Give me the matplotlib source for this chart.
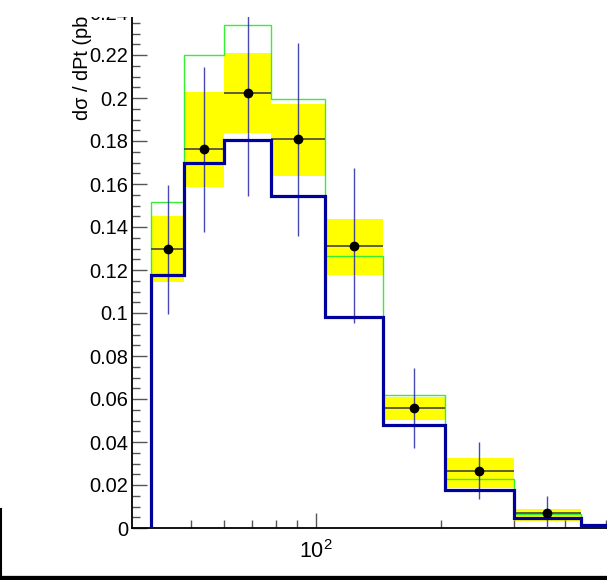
import matplotlib
matplotlib.use('Agg')
import matplotlib.pyplot as plt
import numpy as np
from matplotlib.patches import Rectangle
from matplotlib.lines import Line2D
from matplotlib.ticker import MultipleLocator, FuncFormatter, NullFormatter, FixedLocator

plt.rcParams['font.family'] = ['Liberation Sans', 'DejaVu Sans']
plt.rcParams['mathtext.fontset'] = 'custom'
plt.rcParams['mathtext.rm'] = 'Liberation Sans'

# pt bins (GeV)
edges = [40, 48, 60, 78, 105, 145, 205, 300, 435, 600]
# MC predictions
mc_blue = [0.1175, 0.1700, 0.1805, 0.1546, 0.0983, 0.0478, 0.0175, 0.0047, 0.0012]
mc_green = [0.1516, 0.2200, 0.2340, 0.1997, 0.1265, 0.0617, 0.0226, 0.0065, 0.0015]
# measured cross section, stat error, systematic band
data = [0.1296, 0.1761, 0.2022, 0.1808, 0.1313, 0.0557, 0.0267, 0.0068]
stat = [0.0300, 0.0385, 0.0476, 0.0450, 0.0360, 0.0185, 0.0134, 0.0082]
syst_lo = [0.1146, 0.1585, 0.1836, 0.1639, 0.1177, 0.0502, 0.0188, 0.0034]
syst_hi = [0.1453, 0.2029, 0.2211, 0.1972, 0.1437, 0.0608, 0.0326, 0.0088]
# labelled x tick
x_major = [100]
x_minor = [50, 60, 70, 80, 90, 200, 300, 400, 500, 600, 700, 800, 900]

W, H = 607, 580
fig = plt.figure(figsize=(W / 100, H / 100), dpi=100)

# frame geometry in pixels
x0_px, y0_px = 132.3, 528.0
px_per_dec, px_per_unit = 414.2, 2150.0
xmin, xmax = 36.0, 1000.0
ymax = 0.26
w_px = (np.log10(xmax) - np.log10(xmin)) * px_per_dec
h_px = ymax * px_per_unit
ax = fig.add_axes([x0_px / W, (H - y0_px) / H, w_px / W, h_px / H])
ax.set_xscale('log')
ax.set_xlim(xmin, xmax)
ax.set_ylim(0, ymax)

e = np.array(edges, dtype=float)
lo, hi = e[:-1], e[1:]
n = len(data)
centers = np.sqrt(lo[:n] * hi[:n])

# systematic band
for i in range(n):
    ax.add_patch(Rectangle((lo[i], syst_lo[i]), hi[i] - lo[i], syst_hi[i] - syst_lo[i],
                           facecolor='#ffff00', edgecolor='none', zorder=1))

ax.stairs(mc_green, e, baseline=0, color='#33f033', lw=1.0, zorder=2)

# bin-width bars and stat errors
ax.hlines(data, lo[:n], hi[:n], color='#444444', lw=1.2, zorder=3)
ax.vlines(centers, np.array(data) - np.array(stat), np.array(data) + np.array(stat),
          color='#2828a8', lw=1.0, alpha=0.85, zorder=4)

ax.stairs(mc_blue, e, baseline=0, color='#00009a', lw=2.3, zorder=5)

ax.plot(centers, data, 'o', color='black', ms=6, zorder=6)

# axes style
for s in ['top', 'right']:
    ax.spines[s].set_visible(False)
for s in ['left', 'bottom']:
    ax.spines[s].set_linewidth(1.3)
    ax.spines[s].set_color('black')

ax.yaxis.set_major_locator(MultipleLocator(0.02))
ax.yaxis.set_minor_locator(MultipleLocator(0.005))
ax.yaxis.set_major_formatter(FuncFormatter(lambda v, p: '%g' % round(v, 4)))
ax.xaxis.set_major_locator(FixedLocator(x_major))
ax.xaxis.set_minor_locator(FixedLocator(x_minor))
ax.xaxis.set_major_formatter(FuncFormatter(lambda v, p: r'$\mathregular{10^{%d}}$' % round(np.log10(v))))
ax.xaxis.set_minor_formatter(NullFormatter())

ax.tick_params(which='both', direction='in', color='#555555', width=1.0,
               labelsize=14.4, top=False, right=False)
ax.tick_params(axis='y', which='major', length=11, pad=3)
ax.tick_params(axis='y', which='minor', length=5.5)
ax.tick_params(axis='x', which='major', length=11, pad=9, labelsize=15.5)
ax.tick_params(axis='x', which='minor', length=5.5)

fig.text(83 / W, (H - 120) / H, 'd\u03c3 / dPt (pb/GeV)', rotation=90,
         ha='center', va='bottom', fontsize=14.4)

# white strip along the top of the canvas
fig.add_artist(Rectangle((0, 1 - 17 / H), 1, 17 / H, transform=fig.transFigure,
                         facecolor='white', edgecolor='none', zorder=100))

# lower pad border
fig.add_artist(Line2D([0, 1], [2.5 / H, 2.5 / H], transform=fig.transFigure,
                      color='black', lw=3.8, zorder=101))
fig.add_artist(Line2D([1.5 / W, 1.5 / W], [0, (H - 509) / H], transform=fig.transFigure,
                      color='black', lw=1.5, zorder=101))

fig.savefig('out.png', dpi=100)
